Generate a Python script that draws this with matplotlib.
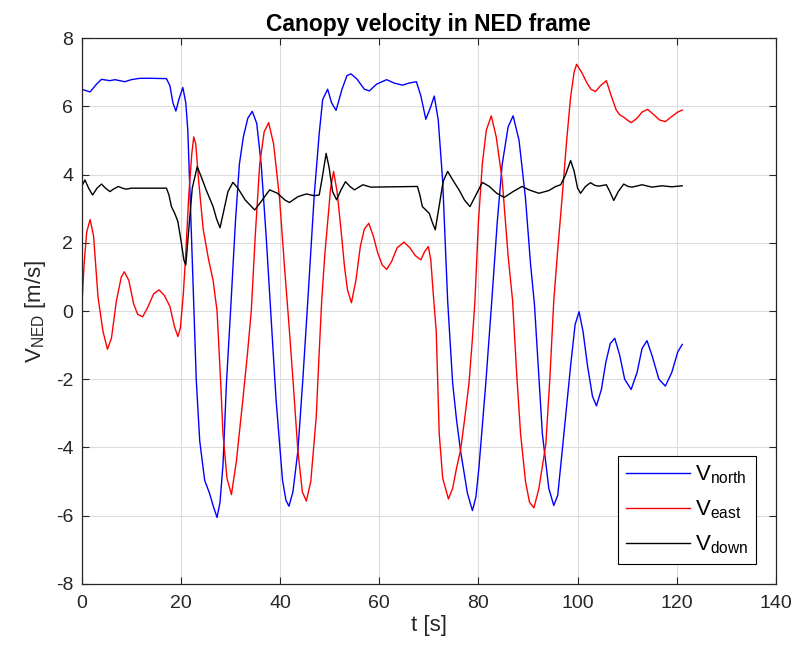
import matplotlib
matplotlib.use("Agg")
import matplotlib.pyplot as plt

plt.rcParams['font.family'] = ['Liberation Sans', 'DejaVu Sans']
plt.rcParams['mathtext.fontset'] = 'custom'
plt.rcParams['mathtext.rm'] = 'Liberation Sans'
plt.rcParams['axes.unicode_minus'] = False

t_north = [0, 1.7, 3, 4, 5.7, 6.7, 8.7, 10, 11.7, 14, 17.1, 17.8, 18.4, 19.0, 19.6, 20.4, 21.0, 21.4, 22.0, 22.6,
           23.1, 23.8, 24.8, 25.8, 26.6, 27.3, 27.9, 28.5, 29.2, 30.1, 31.0, 31.8, 32.6, 33.5, 34.4, 35.3, 36.2,
           37.2, 38.2, 39.2, 40.5, 41.2, 41.8, 42.6, 43.6, 44.6, 45.6, 46.9, 47.9, 48.6, 49.6, 50.4, 51.3, 52.5,
           53.5, 54.3, 55.5, 57.0, 58.0, 59.5, 61.5, 63.0, 64.7, 66.0, 67.5, 68.4, 69.4, 70.3, 71.1, 71.9, 72.8,
           73.8, 74.8, 75.6, 76.4, 77.8, 78.8, 79.5, 80.1, 81.5, 82.7, 83.8, 84.8, 86.0, 87.0, 88.2, 89.5, 90.5,
           91.3, 92.9, 94.2, 95.2, 96.0, 96.9, 98.6, 99.5, 100.3, 101.1, 102.0, 103.0, 103.8, 104.8, 105.7, 106.6,
           107.5, 108.5, 109.5, 110.8, 112.0, 113.0, 114.0, 115.0, 116.4, 117.7, 119.0, 120.2, 121.1]
v_north = [6.5, 6.42, 6.65, 6.79, 6.75, 6.78, 6.72, 6.78, 6.82, 6.82, 6.81, 6.6, 6.1, 5.86, 6.2, 6.55, 6.1, 5.3, 2.8, 0.2,
           -2.0, -3.8, -4.96, -5.35, -5.75, -6.05, -5.6, -4.5, -2.1, 0.2, 2.6, 4.3, 5.1, 5.65, 5.85, 5.5, 4.3,
           2.2, -0.2, -2.6, -4.96, -5.55, -5.72, -5.3, -4.1, -2.0, 0.3, 3.4, 5.2, 6.2, 6.5, 6.1, 5.88, 6.5,
           6.9, 6.95, 6.8, 6.5, 6.45, 6.65, 6.78, 6.68, 6.62, 6.68, 6.72, 6.3, 5.62, 5.95, 6.3, 5.6, 3.8,
           0.3, -2.1, -3.2, -4.1, -5.35, -5.85, -5.45, -4.6, -2.1, 0.3, 2.6, 4.3, 5.4, 5.72, 5.0, 3.3, 1.4,
           0.2, -3.6, -5.2, -5.7, -5.4, -4.1, -1.6, -0.4, -0.02, -0.6, -1.6, -2.5, -2.78, -2.3, -1.5, -0.95,
           -0.8, -1.3, -2.0, -2.3, -1.8, -1.1, -0.87, -1.3, -2.0, -2.2, -1.8, -1.2, -0.98]

t_east = [0, 0.5, 1.0, 1.7, 2.4, 3.3, 4.3, 5.2, 6.0, 7.0, 8.0, 8.6, 9.5, 10.5, 11.3, 12.3, 13.3, 14.5, 15.6, 16.7,
          17.8, 18.7, 19.4, 19.9, 20.5, 21.0, 21.6, 22.2, 22.6, 23.0, 23.6, 24.5, 25.6, 26.5, 27.3, 28.0, 28.5,
          29.3, 30.2, 31.2, 32.5, 33.4, 34.2, 35.0, 35.9, 36.8, 37.7, 38.7, 39.9, 41.0, 41.8, 42.6, 43.6, 44.5,
          45.3, 46.2, 47.3, 47.9, 48.4, 49.0, 49.6, 50.2, 50.8, 51.5, 52.3, 53.0, 53.6, 54.4, 55.3, 56.2, 57.0,
          57.9, 58.8, 59.7, 60.6, 61.5, 62.5, 63.6, 65.0, 66.2, 67.3, 68.4, 69.2, 69.9, 70.4, 70.9, 71.5, 72.1,
          72.8, 73.96, 74.8, 75.6, 76.4, 77.2, 78.1, 78.8, 79.3, 80.0, 80.8, 81.6, 82.6, 83.6, 84.8, 86.0, 86.9,
          87.7, 88.5, 89.5, 90.3, 91.2, 92.2, 93.6, 94.4, 95.2, 96.0, 96.9, 97.8, 98.6, 99.3, 99.8, 100.8, 101.9,
          102.7, 103.6, 104.6, 105.8, 106.8, 107.8, 108.5, 109.3, 110.0, 110.8, 112.0, 113.0, 114.1, 115.4,
          116.5, 117.7, 119.0, 120.2, 121.1]
v_east = [0.03, 1.4, 2.3, 2.68, 2.2, 0.4, -0.6, -1.12, -0.8, 0.3, 1.0, 1.15, 0.9, 0.2, -0.1, -0.17, 0.1, 0.5, 0.62, 0.45,
          0.13, -0.45, -0.75, -0.5, 0.5, 1.7, 3.4, 4.6, 5.1, 4.9, 3.8, 2.4, 1.5, 0.9, 0.0, -2.0, -3.6,
          -4.9, -5.38, -4.4, -2.6, -1.3, 0.0, 2.2, 4.3, 5.25, 5.52, 4.9, 3.3, 1.1, -0.4, -2.0, -4.1, -5.3,
          -5.57, -5.0, -3.1, -1.2, 0.3, 1.6, 2.6, 3.6, 4.09, 3.5, 2.37, 1.3, 0.62, 0.24, 0.9, 1.9, 2.4,
          2.57, 2.2, 1.7, 1.35, 1.22, 1.45, 1.85, 2.02, 1.85, 1.62, 1.50, 1.75, 1.89, 1.5, 0.5, -0.6, -3.6,
          -4.9, -5.51, -5.2, -4.6, -4.08, -3.2, -2.12, -0.8, 0.3, 2.6, 4.33, 5.3, 5.72, 5.1, 3.84, 1.6, 0.3,
          -1.8, -3.59, -5.0, -5.6, -5.77, -5.2, -3.9, -2.0, 0.3, 1.8, 3.35, 5.0, 6.28, 7.0, 7.23, 7.0, 6.68,
          6.5, 6.43, 6.6, 6.75, 6.3, 5.89, 5.75, 5.68, 5.6, 5.52, 5.65, 5.83, 5.91, 5.75,
          5.6, 5.55, 5.7, 5.83, 5.89]

t_down = [0, 0.66, 1.4, 2.2, 3.1, 4.0, 4.8, 5.7, 6.5, 7.4, 8.2, 9.0, 10.0, 11.1, 17.1, 17.6, 18.1, 18.8, 19.4, 20.1,
          20.6, 21.0, 21.6, 22.3, 23.3, 24.2, 25.1, 26.5, 27.2, 27.9, 28.6, 29.5, 30.5, 31.5, 33.0, 34.9, 36.4,
          37.9, 39.5, 41.0, 41.9, 43.6, 45.3, 46.9, 47.9, 48.5, 49.3, 49.9, 50.6, 51.4, 52.3, 53.2, 54.1, 55.0,
          56.7, 58.3, 67.7, 68.2, 68.7, 70.1, 70.7, 71.3, 72.0, 72.9, 73.8, 75.0, 76.1, 77.2, 78.3, 79.5, 80.8,
          82.2, 83.7, 85.2, 87.0, 88.8, 90.2, 92.2, 94.2, 95.6, 96.6, 97.6, 98.6, 99.3, 100.0, 100.6, 101.6,
          102.6, 103.5, 104.3, 105.8, 106.5, 107.3, 108.2, 109.3, 110.2, 111.0, 113.0, 115.0, 117.0, 119.0, 121.1]
v_down = [3.65, 3.84, 3.6, 3.40, 3.6, 3.72, 3.6, 3.50, 3.58, 3.65, 3.6, 3.57, 3.6, 3.6, 3.6, 3.4, 3.06, 2.85, 2.62, 2.0,
          1.5, 1.35, 2.4, 3.6, 4.23, 3.9, 3.55, 3.06, 2.7, 2.44, 2.9, 3.5, 3.77, 3.6, 3.25, 2.96, 3.25,
          3.55, 3.45, 3.25, 3.18, 3.35, 3.43, 3.38, 3.4, 3.9, 4.62, 4.2, 3.5, 3.26, 3.55, 3.79, 3.65, 3.55,
          3.70, 3.63, 3.65, 3.4, 3.06, 2.86, 2.6, 2.38, 3.0, 3.8, 4.09, 3.8, 3.55, 3.25, 3.06, 3.4, 3.77,
          3.65, 3.45, 3.33, 3.5, 3.65, 3.55, 3.45, 3.53, 3.65, 3.70, 4.0, 4.41, 4.1, 3.6, 3.45, 3.65,
          3.76, 3.68, 3.66, 3.70, 3.5, 3.24, 3.5, 3.72, 3.65, 3.63, 3.70, 3.63, 3.67, 3.64, 3.67]

x_ticks = [0, 20, 40, 60, 80, 100, 120, 140]
y_ticks = [-8, -6, -4, -2, 0, 2, 4, 6, 8]
labels = [r'V$_{\mathrm{north}}$', r'V$_{\mathrm{east}}$', r'V$_{\mathrm{down}}$']

fig = plt.figure(figsize=(7.96, 6.58), dpi=100)
ax = fig.add_axes([0.1026, 0.1125, 0.8722, 0.8297])

ax.plot(t_north, v_north, color=(0, 0, 1), lw=1.0, label=labels[0])
ax.plot(t_east, v_east, color=(1, 0, 0), lw=1.0, label=labels[1])
ax.plot(t_down, v_down, color='black', lw=1.0, label=labels[2])

ax.set_xlim(0, 140)
ax.set_ylim(-8, 8)
ax.set_xticks(x_ticks)
ax.set_yticks(y_ticks)
ax.grid(True, color='#dcdcdc', lw=0.8)
ax.set_axisbelow(True)
ax.tick_params(direction='in', top=True, right=True, labelsize=14, colors='#262626', length=5)
ax.tick_params(axis='x', pad=8)
ax.tick_params(axis='y', pad=6)
for s in ax.spines.values():
    s.set_color('#262626')
    s.set_linewidth(0.9)

ax.set_title('Canopy velocity in NED frame', fontsize=16.5, fontweight='bold', color='black', pad=5)
ax.set_xlabel('t [s]', fontsize=16, color='#262626', labelpad=2)
ax.set_ylabel(r'V$_{\mathrm{NED}}$ [m/s]', fontsize=16, color='#262626', labelpad=6)

leg = ax.legend(loc='lower right', bbox_to_anchor=(0.971, 0.037), borderaxespad=0, fontsize=16,
                fancybox=False, edgecolor='black', framealpha=1, handlelength=2.9, borderpad=0.35,
                labelspacing=0.55, handletextpad=0.2)
leg.get_frame().set_linewidth(0.8)

fig.savefig('out.png', dpi=100)
